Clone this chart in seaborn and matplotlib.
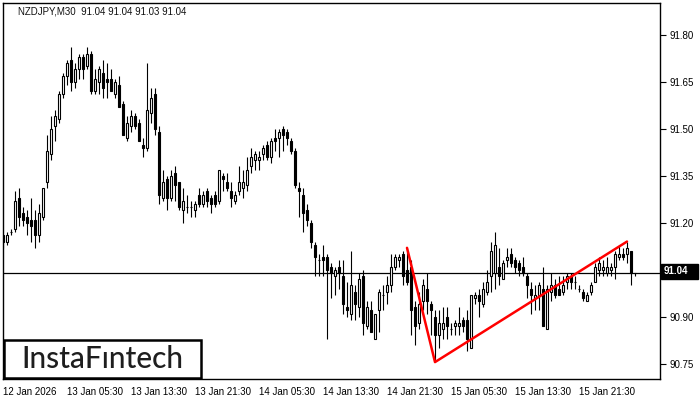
import numpy as np
import pandas as pd
import seaborn as sns
import matplotlib.pyplot as plt
from matplotlib.patches import Rectangle

sns.set_style("white")
plt.rcParams["font.family"] = ["Liberation Sans", "DejaVu Sans"]

# NZDJPY M30 candles (bar 0 = 12 Jan 21:30)
opens = [91.16, 91.14, 91.17, 91.18, 91.28, 91.23, 91.22, 91.21, 91.21, 91.16,
         91.22, 91.33, 91.42, 91.51, 91.53, 91.61, 91.67, 91.72, 91.65, 91.69,
         91.73, 91.70, 91.74, 91.62, 91.65, 91.68, 91.66, 91.66, 91.61, 91.64,
         91.58, 91.47, 91.51, 91.54, 91.52, 91.45, 91.44, 91.55, 91.61, 91.49,
         91.28, 91.34, 91.28, 91.36, 91.33, 91.24, 91.25, 91.25, 91.24, 91.29,
         91.26, 91.30, 91.28, 91.29, 91.27, 91.35, 91.33, 91.30, 91.27, 91.30,
         91.31, 91.32, 91.38, 91.40, 91.40, 91.42, 91.45, 91.41, 91.47, 91.47,
         91.50, 91.49, 91.46, 91.43, 91.31, 91.29, 91.24, 91.20, 91.13, 91.08,
         91.09, 91.09, 91.06, 91.03, 91.06, 91.03, 90.93, 90.91, 90.98, 90.93,
         91.03, 90.87, 90.92, 90.83, 90.92, 90.97, 90.98, 91.00, 91.06, 91.08,
         91.10, 91.05, 91.06, 90.93, 90.88, 90.95, 90.99, 90.94, 90.90, 90.84,
         90.86, 90.90, 90.86, 90.87, 90.87, 90.89, 90.89, 90.80, 90.96, 90.97,
         90.94, 90.98, 91.03, 91.04, 91.06, 91.02, 91.08, 91.10, 91.08, 91.07,
         91.06, 91.03, 90.99, 90.96, 90.97, 90.99, 90.86, 90.98, 91.00, 90.99,
         90.98, 91.01, 91.03, 91.01, 90.99, 90.98, 90.95, 90.98, 91.01, 91.05,
         91.05, 91.04, 91.05, 91.06, 91.09, 91.10, 91.10, 91.11, 91.04]
highs = [91.16, 91.17, 91.18, 91.30, 91.31, 91.25, 91.24, 91.28, 91.24, 91.26,
         91.31, 91.48, 91.54, 91.56, 91.62, 91.68, 91.72, 91.76, 91.71, 91.74,
         91.74, 91.76, 91.75, 91.69, 91.70, 91.72, 91.71, 91.69, 91.66, 91.67,
         91.59, 91.54, 91.56, 91.55, 91.53, 91.47, 91.71, 91.63, 91.63, 91.51,
         91.37, 91.35, 91.37, 91.38, 91.33, 91.31, 91.29, 91.27, 91.27, 91.31,
         91.30, 91.31, 91.29, 91.30, 91.37, 91.36, 91.36, 91.33, 91.30, 91.38,
         91.37, 91.41, 91.44, 91.43, 91.43, 91.45, 91.46, 91.47, 91.50, 91.50,
         91.51, 91.50, 91.47, 91.44, 91.33, 91.31, 91.26, 91.21, 91.14, 91.10,
         91.13, 91.10, 91.07, 91.06, 91.08, 91.08, 91.01, 91.11, 91.00, 91.04,
         91.05, 90.95, 90.95, 90.91, 90.99, 91.00, 91.03, 91.10, 91.10, 91.10,
         91.11, 91.12, 91.08, 90.95, 90.98, 91.02, 91.04, 90.95, 90.92, 90.92,
         90.93, 90.93, 90.88, 90.89, 90.93, 90.90, 90.92, 90.97, 90.98, 90.99,
         91.01, 91.05, 91.14, 91.17, 91.12, 91.08, 91.12, 91.12, 91.09, 91.08,
         91.09, 91.04, 91.01, 91.00, 91.01, 91.06, 91.00, 91.04, 91.02, 91.03,
         91.03, 91.04, 91.04, 91.03, 91.00, 90.99, 90.98, 91.01, 91.07, 91.09,
         91.08, 91.09, 91.07, 91.11, 91.13, 91.12, 91.14, 91.11, 91.04]
lows = [91.12, 91.13, 91.16, 91.17, 91.19, 91.19, 91.16, 91.14, 91.12, 91.14,
        91.21, 91.31, 91.40, 91.46, 91.52, 91.60, 91.64, 91.62, 91.63, 91.66,
        91.66, 91.69, 91.61, 91.61, 91.61, 91.60, 91.60, 91.62, 91.60, 91.57,
        91.48, 91.46, 91.49, 91.50, 91.46, 91.41, 91.43, 91.52, 91.48, 91.26,
        91.27, 91.24, 91.27, 91.27, 91.24, 91.20, 91.23, 91.22, 91.22, 91.25,
        91.25, 91.25, 91.23, 91.25, 91.26, 91.30, 91.30, 91.25, 91.26, 91.29,
        91.28, 91.30, 91.36, 91.37, 91.37, 91.40, 91.40, 91.39, 91.43, 91.41,
        91.43, 91.45, 91.42, 91.31, 91.22, 91.17, 91.19, 91.12, 91.03, 91.03,
        91.03, 90.83, 90.96, 90.97, 90.99, 90.91, 90.90, 90.89, 90.89, 90.90,
        90.84, 90.86, 90.85, 90.83, 90.85, 90.92, 90.94, 90.98, 91.05, 91.06,
        91.00, 91.00, 90.84, 90.81, 90.86, 90.92, 90.91, 90.84, 90.76, 90.80,
        90.83, 90.83, 90.84, 90.84, 90.84, 90.85, 90.79, 90.80, 90.94, 90.90,
        90.93, 90.97, 90.98, 90.99, 91.00, 91.02, 91.06, 91.06, 91.04, 91.03,
        91.03, 90.96, 90.91, 90.92, 90.92, 90.87, 90.86, 90.95, 90.96, 90.97,
        90.97, 90.99, 90.99, 90.99, 90.98, 90.95, 90.95, 90.97, 91.01, 91.03,
        91.03, 91.03, 91.03, 91.02, 91.08, 91.08, 91.07, 91.00, 91.03]
closes = [91.14, 91.16, 91.17, 91.27, 91.22, 91.21, 91.20, 91.19, 91.16, 91.23,
          91.31, 91.43, 91.50, 91.54, 91.61, 91.67, 91.71, 91.65, 91.69, 91.73,
          91.69, 91.74, 91.62, 91.66, 91.69, 91.63, 91.65, 91.62, 91.65, 91.57,
          91.48, 91.52, 91.54, 91.51, 91.46, 91.44, 91.56, 91.60, 91.50, 91.29,
          91.33, 91.28, 91.35, 91.32, 91.25, 91.27, 91.25, 91.25, 91.26, 91.26,
          91.29, 91.27, 91.26, 91.26, 91.37, 91.34, 91.31, 91.28, 91.29, 91.33,
          91.33, 91.37, 91.41, 91.42, 91.41, 91.44, 91.41, 91.46, 91.46, 91.49,
          91.48, 91.47, 91.43, 91.32, 91.30, 91.23, 91.21, 91.14, 91.09, 91.08,
          91.08, 91.05, 91.04, 91.05, 91.04, 90.94, 90.92, 91.00, 90.94, 91.02,
          90.88, 90.93, 90.85, 90.91, 90.98, 90.97, 91.00, 91.06, 91.09, 91.09,
          91.03, 91.01, 90.92, 90.87, 90.94, 91.00, 90.95, 90.92, 90.84, 90.88,
          90.88, 90.87, 90.86, 90.88, 90.88, 90.87, 90.83, 90.97, 90.97, 90.95,
          90.99, 91.01, 91.11, 91.13, 91.03, 91.07, 91.09, 91.07, 91.06, 91.05,
          91.04, 91.00, 90.97, 90.97, 91.00, 90.87, 90.99, 91.00, 90.97, 90.97,
          91.00, 91.03, 91.01, 91.01, 90.99, 90.96, 90.97, 91.00, 91.06, 91.07,
          91.06, 91.06, 91.06, 91.10, 91.10, 91.09, 91.12, 91.04, 91.04]

time_labels = ["12 Jan 2026", "13 Jan 05:30", "13 Jan 13:30", "13 Jan 21:30",
               "14 Jan 05:30", "14 Jan 13:30", "14 Jan 21:30", "15 Jan 05:30",
               "15 Jan 13:30", "15 Jan 21:30"]
time_label_bars = [0, 16, 32, 48, 64, 80, 96, 112, 128, 144]
price_ticks = [90.75, 90.90, 91.20, 91.35, 91.50, 91.65, 91.80]

# red pattern line (bar index, price)
pattern_bars = [101, 108, 156]
pattern_prices = [91.12, 90.755, 91.14]
last_price = 91.04

df = pd.DataFrame({"open": opens, "high": highs, "low": lows, "close": closes})
df["bar"] = np.arange(len(df))
df["lo"] = df[["open", "close"]].min(axis=1)
df["size"] = (df["close"] - df["open"]).abs()
up = df["close"] >= df["open"]

fig = plt.figure(figsize=(7, 4), dpi=100)
ax = fig.add_axes([3 / 700, 21 / 400, 657 / 700, 376 / 400])

ax.vlines(df["bar"], df["low"], df["high"], color="black", lw=0.8, zorder=2)
ax.bar(df["bar"][up], df["size"][up], bottom=df["lo"][up], width=0.6,
       color="white", edgecolor="black", lw=0.8, zorder=3)
ax.bar(df["bar"][~up], df["size"][~up], bottom=df["lo"][~up], width=0.6,
       color="black", edgecolor="black", lw=0.8, zorder=3)

ax.axhline(last_price, color="black", lw=0.9, zorder=1)

sns.lineplot(x=pattern_bars, y=pattern_prices, ax=ax, color="#ff0000",
             lw=1.8, sort=False, estimator=None, zorder=4)

ax.set_xlim(0, 164.25)
ax.set_ylim(90.701, 91.902)

ax.yaxis.tick_right()
ax.set_yticks(price_ticks)
ax.set_yticklabels([f"{p:.2f}" for p in price_ticks])
ax.set_xticks(time_label_bars)
ax.set_xticklabels(time_labels, ha="left")
ax.tick_params(axis="both", direction="out", length=4, width=0.8,
               labelsize=7, color="black", labelcolor="black")
ax.tick_params(axis="y", pad=3)
ax.tick_params(axis="x", pad=2)
for s in ax.spines.values():
    s.set_color("black")
    s.set_linewidth(1)
ax.set_xlabel("")
ax.set_ylabel("")

fig.text(18 / 700, 1 - 11 / 400, "NZDJPY,M30  91.04 91.04 91.03 91.04",
         fontsize=7, va="center", ha="left", color="#111111")

# current price box on the axis
fig.patches.append(Rectangle((661 / 700, (400 - 279) / 400), 37 / 700, 15 / 400,
                             transform=fig.transFigure, color="black", zorder=5))
fig.text(664 / 700, (400 - 271.5) / 400, f"{last_price:.2f}", color="white",
         fontsize=7, fontweight="bold", va="center", ha="left", zorder=6)

# logo
fig.patches.append(Rectangle((4 / 700, (400 - 378) / 400), 197 / 700, 38 / 400,
                             transform=fig.transFigure, facecolor="white",
                             edgecolor="black", lw=1.8, zorder=5))
fig.text(102 / 700, (400 - 359) / 400, "InstaF\u0131ntech", fontsize=21.5,
         family=["Lato", "DejaVu Sans"], fontweight="medium", color="#1e1e1e",
         ha="center", va="center", zorder=6)

fig.savefig("out.png", dpi=100)
